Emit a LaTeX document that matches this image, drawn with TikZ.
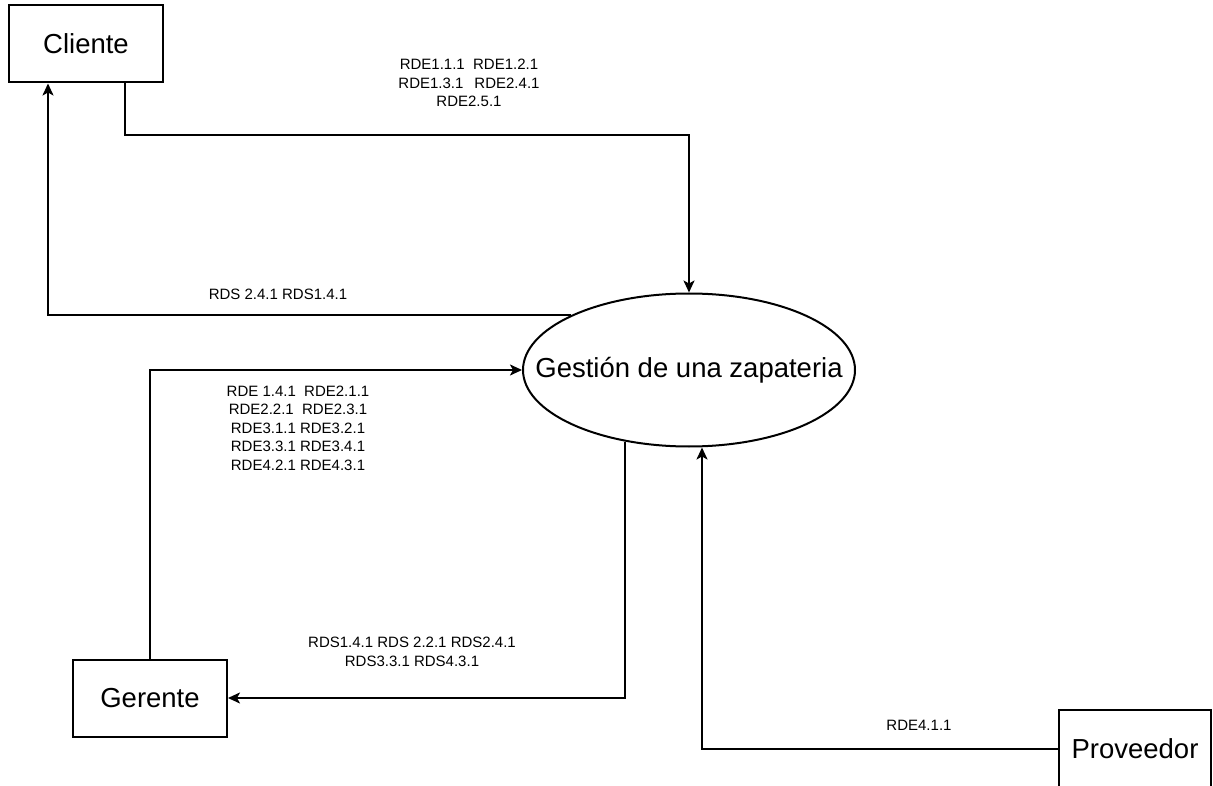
\documentclass[tikz,border=0pt]{standalone}
\usepackage{fontspec}
\setmainfont{Liberation Sans}
\usetikzlibrary{arrows.meta, shapes.geometric}

\begin{document}
\begin{tikzpicture}[x=1pt,y=-1pt,>={Stealth[length=12pt,width=11pt,inset=3pt]},
  entity/.style={draw,line width=2pt,rectangle,minimum width=154pt,minimum height=77pt,
    font=\fontsize{27.5}{33}\selectfont},
  process/.style={draw,line width=2pt,ellipse,minimum width=332pt,minimum height=153pt,
    inner sep=0pt},
  flow/.style={->,line width=2pt},
  tag/.style={align=center,inner sep=0pt,font=\fontsize{15}{18.5}\selectfont}]

  \useasboundingbox (0,0) rectangle (1213,786);

% define the entities
  \node[entity]    (cliente)   at (86,44)     {Cliente};
  \node[process]   (gestion)   at (689,370)   {};
  \node[font=\fontsize{27.5}{33}\selectfont]
                   (gestiontxt) at (gestion.center) {Gestión de una zapateria};
  \node[entity]    (gerente)   at (150,698)   {Gerente};
  \node[entity, minimum width=152pt, minimum height=78pt]
                   (proveedor) at (1135,749)  {Proveedor};

% define the links
  \draw[flow] ([xshift=39pt]cliente.south) -- ++(0,52) -| (gestion.north);
  \draw[flow] (gestion.155) -| ([xshift=-38pt]cliente.south);
  \draw[flow] (gerente.north) |- (gestion.west);
  \draw[flow] (gestion.228) |- (gerente.east);
  \draw[flow] (proveedor.west) -| ([xshift=13pt]gestion.south);

% define the labels
  \node[tag] (rdecli) at (469,83)
{RDE1.1.1\ \ RDE1.2.1\\ RDE1.3.1\hspace{11pt}RDE2.4.1\\ RDE2.5.1};
  \node[tag] (rdscli) at (278,294)
{RDS 2.4.1 RDS1.4.1};
  \node[tag] (rdeger) at (298,428)
{RDE 1.4.1\ \ RDE2.1.1\\ RDE2.2.1\ \ RDE2.3.1\\ RDE3.1.1 RDE3.2.1\\ RDE3.3.1 RDE3.4.1\\ RDE4.2.1 RDE4.3.1};
  \node[tag] (rdsger) at (412,652)
{RDS1.4.1 RDS 2.2.1 RDS2.4.1\\ RDS3.3.1 RDS4.3.1};
  \node[tag] (rdepro) at (919,725)
{RDE4.1.1};

\end{tikzpicture}
\end{document}
